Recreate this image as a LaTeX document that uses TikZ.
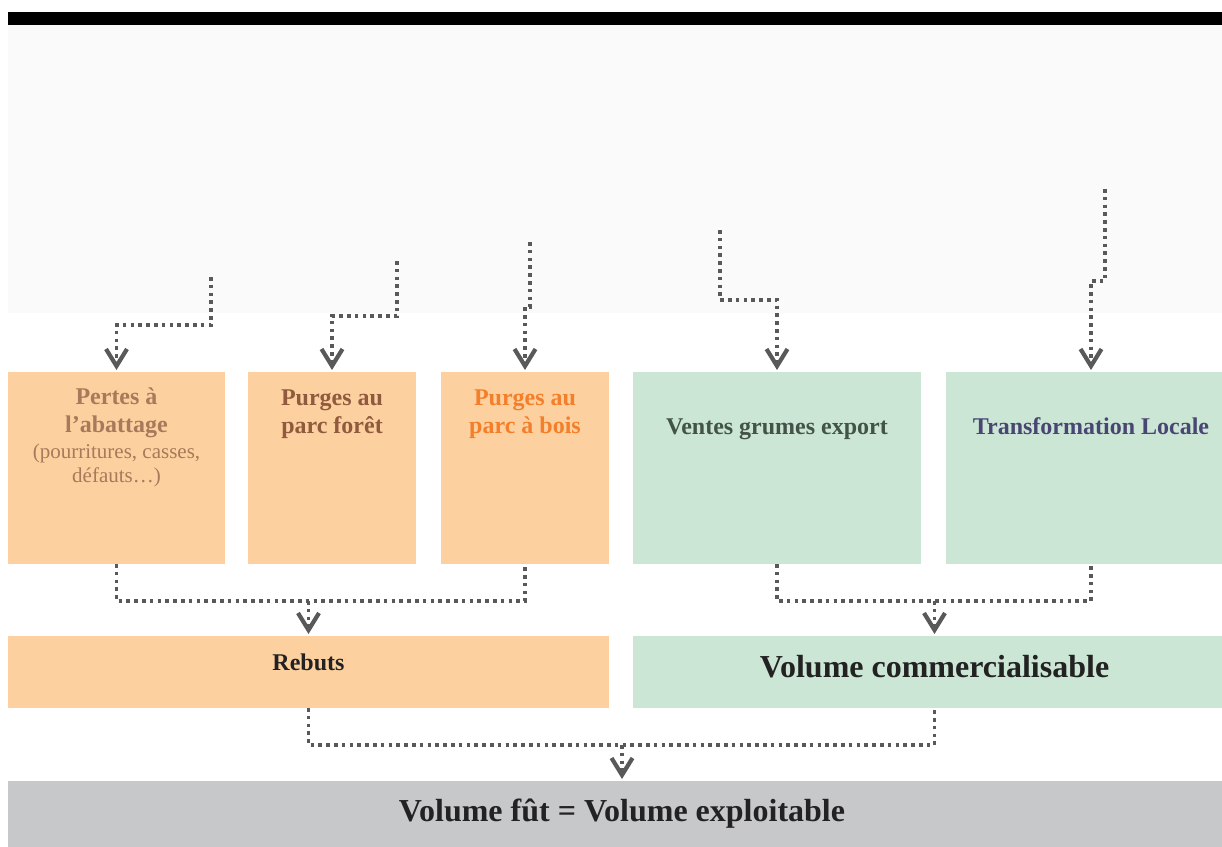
\documentclass[tikz,border=0pt]{standalone}
\usepackage{fontspec}
\setmainfont{Liberation Serif}
\usetikzlibrary{arrows.meta,calc}
\definecolor{ofill}{HTML}{FDD09F}
\definecolor{gfill}{HTML}{CBE6D4}
\definecolor{bfill}{HTML}{C7C8CA}
\definecolor{band}{HTML}{FAFAFA}
\definecolor{agray}{HTML}{595959}
\definecolor{tpertes}{HTML}{A8795A}
\definecolor{tforet}{HTML}{8F5A3E}
\definecolor{tbois}{HTML}{F47F2A}
\definecolor{tventes}{HTML}{435347}
\definecolor{ttrans}{HTML}{4A4674}
\definecolor{tdark}{HTML}{222222}
\newcommand{\tstrut}{\rule{0pt}{20pt}}
\begin{document}
\begin{tikzpicture}[x=1pt,y=-1pt,
  box/.style={draw=none,inner sep=0pt,outer sep=0pt,anchor=north west},
  obox/.style={box,fill=ofill},
  gbox/.style={box,fill=gfill},
  lbl/.style={inner sep=0pt,align=center,font=\bfseries\fontsize{24}{28}\selectfont},
  big/.style={inner sep=0pt,font=\bfseries\fontsize{32}{36}\selectfont,text=tdark,anchor=base},
  conn/.style={draw=agray,line width=3.6pt,dash pattern=on 3.6pt off 4.2pt},
  tip/.style={conn,-{Straight Barb[length=17pt,width=21pt,line width=4.2pt]},shorten >=2pt}
]
\useasboundingbox (0,0) rectangle (1222,846);
\clip (0,0) rectangle (1222,846);
\fill[black] (8,12) rectangle (1236,25);
\fill[band] (8,25) rectangle (1236,313);

% boxes
\node[obox,minimum width=217pt,minimum height=192pt] (b1) at (8,372) {};
\node[obox,minimum width=168pt,minimum height=192pt] (b2) at (248,372) {};
\node[obox,minimum width=168pt,minimum height=192pt] (b3) at (441,372) {};
\node[gbox,minimum width=288pt,minimum height=192pt] (b4) at (633,372) {};
\node[gbox,minimum width=290pt,minimum height=192pt] (b5) at (946,372) {};
\node[obox,minimum width=601pt,minimum height=72pt] (reb) at (8,636) {};
\node[gbox,minimum width=603pt,minimum height=72pt] (vc) at (633,636) {};
\node[box,fill=bfill,minimum width=1228pt,minimum height=70pt] (vf) at (8,781) {};

% texts
\node[lbl,anchor=north,text=tpertes] (t1) at (116.5,384) {\tstrut Pertes à\\l’abattage};
\node[inner sep=0pt,align=center,anchor=north,text=tpertes,font=\fontsize{21}{24.5}\selectfont] (t1b) at (116.5,438) {\tstrut(pourritures, casses,\\défauts…)};
\node[lbl,anchor=north,text=tforet] (t2) at (332,385) {\tstrut Purges au\\parc forêt};
\node[lbl,anchor=north,text=tbois] (t3) at (525,385) {\tstrut Purges au\\parc à bois};
\node[lbl,anchor=base,text=tventes] (t4) at (777,434) {Ventes grumes export};
\node[lbl,anchor=base,text=ttrans] (t5) at (1091,434) {Transformation Locale};
\node[lbl,anchor=base,text=tdark] (t6) at (308.5,670) {Rebuts};
\node[big] (t7) at (934.5,677) {Volume commercialisable};
\node[big] (t8) at (622,821) {Volume fût = Volume exploitable};

% top arrows
\coordinate (s1) at (211,277); \coordinate (m1) at (116.5,325);
\coordinate (s2) at (397,261); \coordinate (m2) at (332,316);
\coordinate (s3) at (530,242); \coordinate (m3) at (525,307);
\coordinate (s4) at (720,230); \coordinate (m4) at (777,300);
\coordinate (s5) at (1105,189); \coordinate (m5) at (1091,281);
\draw[tip] (s1) |- (m1) -- (b1.north);
\draw[tip] (s2) |- (m2) -- (b2.north);
\draw[tip] (s3) |- (m3) -- (b3.north);
\draw[tip] (s4) |- (m4) -- (b4.north);
\draw[tip] (s5) |- (m5) -- (b5.north);

% lower connectors
\draw[conn] (b1.south) -- ++(0,37) -| (b3.south);
\coordinate (j1) at (308.5,601);
\draw[tip] (j1) -- (reb.north);
\draw[conn] (b4.south) -- ++(0,37) -| (b5.south);
\coordinate (j2) at (934.5,601);
\draw[tip] (j2) -- (vc.north);
\draw[conn] (reb.south) -- ++(0,37) -| (vc.south);
\coordinate (j3) at (622,745);
\draw[tip] (j3) -- (vf.north);
\end{tikzpicture}
\end{document}
